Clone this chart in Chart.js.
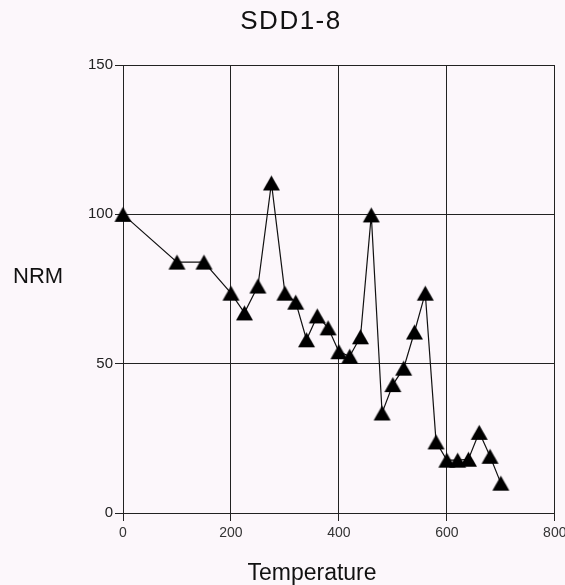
<!DOCTYPE html>
<html>
<head>
<meta charset="utf-8">
<script src="https://cdn.jsdelivr.net/npm/chart.js@4/dist/chart.umd.min.js"></script>
<style>
  html, body { margin: 0; padding: 0; background: #fcf7fb; }
  #wrap { width: 565px; height: 585px; position: relative; }
</style>
</head>
<body>
<div id="wrap"><canvas id="c" width="565" height="585"></canvas></div>
<script>
const chartTitle = "SDD1-8";
const xAxisTitle = "Temperature";
const yAxisTitle = "NRM";
const temperature = [0, 100, 150, 200, 225, 250, 275, 300, 320, 340, 360, 380, 400, 420, 440, 460, 480, 500, 520, 540, 560, 580, 600, 620, 640, 660, 680, 700];
const nrm = [100, 84, 84, 73.6, 67, 76, 110.5, 73.6, 70.6, 58, 66, 62, 54, 52.5, 59, 99.8, 33.5, 43, 48.5, 60.6, 73.6, 23.8, 17.7, 17.7, 18, 27, 19, 10];
const xTicks = [0, 200, 400, 600, 800];
const yTicks = [0, 50, 100, 150];

const points = temperature.map((t, i) => ({ x: t, y: nrm[i] }));

// filled triangle marker
const tri = document.createElement('canvas');
tri.width = 19; tri.height = 17;
(function () {
  const g = tri.getContext('2d');
  g.fillStyle = '#000';
  g.beginPath();
  g.moveTo(1, 16);
  g.lineTo(18, 16);
  g.lineTo(9.5, 1);
  g.closePath();
  g.fill();
})();

const textPlugin = {
  id: 'texts',
  beforeDraw(chart) {
    const ctx = chart.ctx;
    ctx.save();
    ctx.fillStyle = '#fcf7fb';
    ctx.fillRect(0, 0, chart.width, chart.height);
    ctx.restore();
  },
  afterDraw(chart) {
    const ctx = chart.ctx;
    ctx.save();
    ctx.fillStyle = '#111';
    ctx.textBaseline = 'alphabetic';
    ctx.textAlign = 'center';
    ctx.font = '26px "Liberation Sans", Arial, sans-serif';
    try { ctx.letterSpacing = '1.5px'; } catch (e) {}
    ctx.fillText(chartTitle, 291, 29);
    try { ctx.letterSpacing = '0px'; } catch (e) {}
    ctx.font = '23px "Liberation Sans", Arial, sans-serif';
    ctx.fillText(xAxisTitle, 312, 580);
    ctx.textAlign = 'left';
    ctx.font = '22px "Liberation Sans", Arial, sans-serif';
    ctx.fillText(yAxisTitle, 13, 283);
    ctx.restore();
  }
};

new Chart(document.getElementById('c'), {
  type: 'scatter',
  data: {
    datasets: [{
      data: points,
      showLine: true,
      borderColor: '#111',
      borderWidth: 1.2,
      pointStyle: tri,
      pointRadius: 9,
      pointHoverRadius: 9,
      backgroundColor: '#000',
      clip: false
    }]
  },
  options: {
    responsive: false,
    animation: false,
    events: [],
    layout: { padding: { left: 0, top: 65, right: 10, bottom: 0 } },
    plugins: { legend: { display: false }, title: { display: false }, tooltip: { enabled: false } },
    scales: {
      x: {
        type: 'linear',
        min: 0, max: 800,
        afterBuildTicks(scale) { scale.ticks = xTicks.map(v => ({ value: v })); },
        afterFit(scale) { scale.height = 72; scale.paddingLeft = 0; scale.paddingRight = 0; },
        grid: { color: '#222', lineWidth: 1, tickLength: 8, drawTicks: true },
        border: { display: true, color: '#222', width: 1 },
        ticks: { color: '#333', padding: 4, maxRotation: 0, font: { family: '"Liberation Sans", Arial, sans-serif', size: 14 } }
      },
      y: {
        type: 'linear',
        min: 0, max: 150,
        afterBuildTicks(scale) { scale.ticks = yTicks.map(v => ({ value: v })); },
        afterFit(scale) { scale.width = 123; scale.paddingTop = 0; scale.paddingBottom = 0; },
        grid: { color: '#222', lineWidth: 1, tickLength: 8, drawTicks: true },
        border: { display: true, color: '#222', width: 1 },
        ticks: { color: '#222', padding: 2, font: { family: '"Liberation Sans", Arial, sans-serif', size: 15 } }
      }
    }
  },
  plugins: [textPlugin]
});
</script>
</body>
</html>
